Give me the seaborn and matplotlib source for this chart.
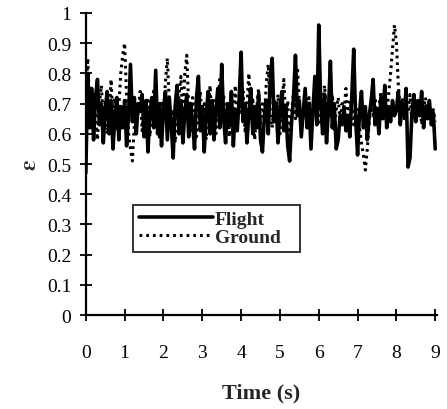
import numpy as np
import pandas as pd
import matplotlib
matplotlib.use("Agg")
import matplotlib.pyplot as plt
import seaborn as sns

# time base (s), 0.05 s step
time_s = np.round(np.arange(0, 181) * 0.05, 2)

flight = [
    0.47, 0.80, 0.62, 0.75, 0.58, 0.72, 0.78, 0.63, 0.70, 0.57, 0.68, 0.74, 0.60, 0.71, 0.55, 0.66, 0.72, 0.58, 0.69, 0.62,
    0.71, 0.56, 0.66, 0.83, 0.64, 0.72, 0.60, 0.70, 0.68, 0.73, 0.59, 0.71, 0.54, 0.67, 0.72, 0.62, 0.81, 0.60, 0.70, 0.56,
    0.68, 0.74, 0.58, 0.72, 0.63, 0.52, 0.69, 0.76, 0.60, 0.71, 0.57, 0.67, 0.73, 0.59, 0.70, 0.64, 0.55, 0.72, 0.79, 0.61,
    0.69, 0.54, 0.66, 0.74, 0.60, 0.71, 0.58, 0.68, 0.75, 0.62, 0.83, 0.65, 0.57, 0.70, 0.63, 0.74, 0.56, 0.68, 0.61, 0.72,
    0.87, 0.64, 0.70, 0.57, 0.67, 0.75, 0.60, 0.69, 0.62, 0.73, 0.58, 0.54, 0.66, 0.71, 0.60, 0.78, 0.85, 0.64, 0.70, 0.57,
    0.68, 0.74, 0.61, 0.69, 0.56, 0.51, 0.64, 0.72, 0.86, 0.66, 0.71, 0.59, 0.67, 0.75, 0.62, 0.70, 0.55, 0.68, 0.79, 0.63,
    0.96, 0.70, 0.60, 0.73, 0.57, 0.68, 0.84, 0.62, 0.70, 0.55, 0.58, 0.66, 0.63, 0.69, 0.61, 0.66, 0.59, 0.72, 0.88, 0.65,
    0.53, 0.67, 0.74, 0.62, 0.69, 0.58, 0.66, 0.71, 0.78, 0.63, 0.68, 0.60, 0.72, 0.65, 0.76, 0.62, 0.69, 0.64, 0.71, 0.66,
    0.68, 0.74, 0.63, 0.70, 0.66, 0.75, 0.49, 0.52, 0.67, 0.73, 0.64, 0.71, 0.66, 0.74, 0.62, 0.69, 0.65, 0.71, 0.63, 0.67,
    0.55,
]

ground = [
    0.72, 0.85, 0.68, 0.62, 0.74, 0.66, 0.58, 0.70, 0.76, 0.64, 0.71, 0.60, 0.67, 0.78, 0.65, 0.72, 0.61, 0.69, 0.80, 0.86,
    0.90, 0.72, 0.60, 0.55, 0.51, 0.63, 0.70, 0.66, 0.74, 0.61, 0.68, 0.64, 0.72, 0.59, 0.67, 0.75, 0.63, 0.69, 0.58, 0.71,
    0.66, 0.77, 0.85, 0.70, 0.62, 0.68, 0.57, 0.65, 0.73, 0.79, 0.64, 0.80, 0.86, 0.69, 0.61, 0.72, 0.66, 0.59, 0.68, 0.74,
    0.63, 0.70, 0.58, 0.67, 0.76, 0.65, 0.71, 0.60, 0.69, 0.78, 0.66, 0.73, 0.62, 0.68, 0.59, 0.71, 0.65, 0.76, 0.63, 0.70,
    0.67, 0.74, 0.61, 0.69, 0.80, 0.66, 0.72, 0.58, 0.68, 0.75, 0.63, 0.70, 0.65, 0.77, 0.83, 0.68, 0.62, 0.71, 0.66, 0.73,
    0.60, 0.69, 0.78, 0.64, 0.71, 0.59, 0.67, 0.74, 0.65, 0.82, 0.70, 0.62, 0.68, 0.75, 0.66, 0.72, 0.61, 0.69, 0.74, 0.65,
    0.71, 0.63, 0.69, 0.76, 0.64, 0.70, 0.66, 0.73, 0.61, 0.68, 0.72, 0.64, 0.70, 0.67, 0.75, 0.65, 0.71, 0.68, 0.63, 0.70,
    0.66, 0.62, 0.57, 0.53, 0.48, 0.55, 0.64, 0.70, 0.66, 0.72, 0.63, 0.69, 0.74, 0.65, 0.71, 0.67, 0.73, 0.80, 0.88, 0.96,
    0.90, 0.76, 0.68, 0.72, 0.65, 0.70, 0.67, 0.73, 0.64, 0.69, 0.71, 0.66, 0.70, 0.63, 0.68, 0.72, 0.65, 0.69, 0.66, 0.68,
    0.64,
]

x_ticks = list(range(0, 10))
x_tick_labels = [str(v) for v in x_ticks]
y_ticks = [0, 0.1, 0.2, 0.3, 0.4, 0.5, 0.6, 0.7, 0.8, 0.9, 1.0]
y_tick_labels = ["0", "0.1", "0.2", "0.3", "0.4", "0.5", "0.6", "0.7", "0.8", "0.9", "1"]

sns.set_theme(style="ticks")
plt.rcParams["font.family"] = ["Liberation Serif", "DejaVu Serif"]
plt.rcParams["mathtext.fontset"] = "stix"

fig = plt.figure(figsize=(4.47, 4.10), dpi=100)
ax = fig.add_axes([0.192, 0.229, 0.786, 0.737])

df = pd.DataFrame({"t": time_s, "Flight": flight, "Ground": ground})
sns.lineplot(data=df, x="t", y="Flight", ax=ax, color="black", lw=2.6, label="Flight")
sns.lineplot(data=df, x="t", y="Ground", ax=ax, color="black", lw=2.2, ls=(0, (0.9, 1.3)), label="Ground")

ax.set_xlim(0, 9.05)
ax.set_ylim(0, 1.0)
ax.set_xticks(x_ticks)
ax.set_xticklabels(x_tick_labels)
ax.set_yticks(y_ticks)
ax.set_yticklabels(y_tick_labels)
ax.tick_params(direction="inout", length=9, width=1.3, colors="black", labelsize=14, pad=6)
ax.tick_params(axis="x", pad=16)
for s in ["top", "right"]:
    ax.spines[s].set_visible(False)
for s in ["left", "bottom"]:
    ax.spines[s].set_color("black")
    ax.spines[s].set_linewidth(1.6)

ax.set_xlabel("Time (s)", fontsize=16, fontweight="bold", labelpad=16)
ax.set_ylabel(r"$\boldsymbol{\varepsilon}$", fontsize=17, rotation=90, labelpad=4)

leg = ax.legend(loc="lower left", bbox_to_anchor=(0.134, 0.21, 0.476, 0.175), mode="expand",
                borderaxespad=0.0,
                frameon=True, fancybox=False, edgecolor="black", fontsize=14,
                handlelength=3.8, handletextpad=0.1, borderpad=0.3, labelspacing=0.0)
leg.get_frame().set_linewidth(1.4)
for txt in leg.get_texts():
    txt.set_fontweight("bold")

fig.savefig("out.png", dpi=100, facecolor="white")
